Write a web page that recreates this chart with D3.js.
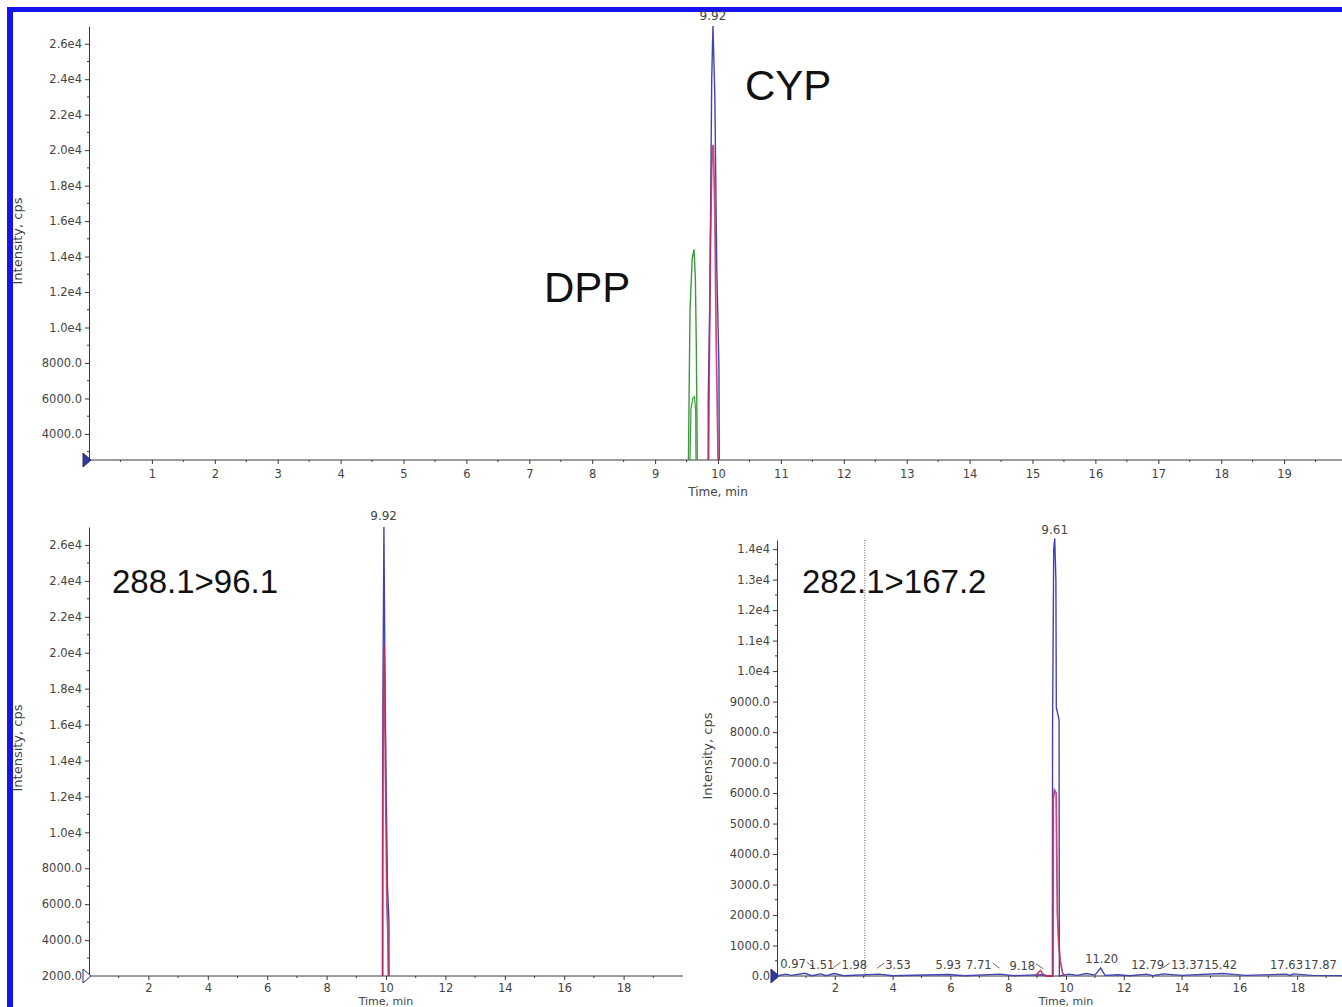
<!DOCTYPE html>
<html>
<head>
<meta charset="utf-8">
<script src="https://cdn.jsdelivr.net/npm/d3@7"></script>
<style>
  body { margin: 0; background: #fff; }
  svg { display: block; font-family: "Liberation Sans", Arial, sans-serif; }
  .small { font-family: "DejaVu Sans", sans-serif; }
</style>
</head>
<body>
<svg width="1342" height="1007"></svg>
<script>
// ---- data (time in min, intensity in cps) ----
const topTimeTicks = [1, 2, 3, 4, 5, 6, 7, 8, 9, 10, 11, 12, 13, 14, 15, 16, 17, 18, 19];
const topIntensityTicks = [4000, 6000, 8000, 10000, 12000, 14000, 16000, 18000, 20000, 22000, 24000, 26000];
const bottomTimeTicks = [2, 4, 6, 8, 10, 12, 14, 16, 18];
const leftIntensityTicks = [2000, 4000, 6000, 8000, 10000, 12000, 14000, 16000, 18000, 20000, 22000, 24000, 26000];
const rightIntensityTicks = [0, 1000, 2000, 3000, 4000, 5000, 6000, 7000, 8000, 9000, 10000, 11000, 12000, 13000, 14000];

// overview: DPP (green, two transitions) and CYP (blue + red transitions)
const dppMain = [[9.53, 2530], [9.54, 6000], [9.555, 11000], [9.59, 13900], [9.62, 14400], [9.64, 12800], [9.655, 9000], [9.665, 5000], [9.67, 2530]];
const dppQual = [[9.555, 2530], [9.57, 5400], [9.60, 6000], [9.625, 6100], [9.645, 5300], [9.65, 2530]];
const cypMain = [[9.845, 2530], [9.845, 6000], [9.87, 11500], [9.90, 24000], [9.92, 27000], [9.95, 23000], [9.98, 13400], [10.015, 7800], [10.02, 2530]];
const cypQual = [[9.85, 2530], [9.86, 7000], [9.88, 14500], [9.905, 20000], [9.925, 20300], [9.95, 16500], [9.97, 9500], [9.995, 4000], [10.0, 2530]];

// 288.1>96.1
const cyp288Main = [[9.885, 2000], [9.885, 8000], [9.89, 15000], [9.91, 21400], [9.93, 27000], [9.96, 20000], [10.0, 13000], [10.05, 7000], [10.1, 5000], [10.1, 2000]];
const cyp288Qual = [[9.885, 2000], [9.89, 9000], [9.90, 14000], [9.93, 20500], [9.96, 18000], [9.98, 13600], [10.03, 6000], [10.06, 4500], [10.08, 2000]];

// 282.1>167.2
const dpp282Main = [[0, 0], [0.3, 60], [0.5, 20], [0.97, 90], [1.2, 10], [1.51, 70], [1.7, 10], [1.98, 80], [2.3, 10],
  [3.53, 60], [4.0, 10], [5.93, 50], [6.5, 10], [7.71, 60], [8.2, 10], [9.18, 40], [9.4, 0], [9.53, 0],
  [9.535, 8200], [9.575, 14000], [9.61, 14350], [9.65, 13000], [9.665, 8800], [9.76, 8400], [9.77, 0],
  [10.1, 60], [10.4, 20], [10.7, 80], [11.0, 30], [11.2, 260], [11.35, 20], [11.8, 40], [12.2, 10], [12.79, 60],
  [13.0, 10], [13.37, 70], [14.0, 20], [15.42, 80], [16.2, 20], [17.63, 60], [17.75, 20], [17.87, 70], [18.5, 20], [20, 10]];
const dpp282Qual = [[8.95, 0], [9.05, 120], [9.12, 180], [9.2, 60], [9.3, 0], [9.55, 0], [9.555, 2000], [9.56, 5800],
  [9.60, 6100], [9.66, 6000], [9.70, 2100], [9.74, 1200], [9.80, 500], [9.88, 100], [9.95, 0]];
const dpp282PeakTimes = [0.97, 1.51, 1.98, 3.53, 5.93, 7.71, 9.18, 11.20, 12.79, 13.37, 15.42, 17.63, 17.87];
const dpp282PeakHeights = [90, 70, 80, 60, 50, 60, 40, 260, 60, 70, 80, 60, 70];

// ---- layout ----
const svg = d3.select("svg");
const BLUE = "#4343b8", RED = "#c42a5c", GREEN = "#3c9a3c", AXIS = "#3a3a3a", TXT = "#444";
const fmt = v => v >= 10000 ? (v / 1e4).toFixed(1) + "e4" : v.toFixed(1);

svg.append("rect").attr("x", 0).attr("y", 0).attr("width", 1342).attr("height", 1007).attr("fill", "#fff");
// blue frame
svg.append("rect").attr("x", 7).attr("y", 7).attr("width", 6).attr("height", 1000).attr("fill", "#1414ee");
svg.append("rect").attr("x", 7).attr("y", 7).attr("width", 1335).attr("height", 5).attr("fill", "#1414ee");

function panel(cfg) {
  const g = svg.append("g");
  const x = d3.scaleLinear().domain([0, 20]).range([cfg.left, cfg.left + 20 * cfg.pxPerMin]);
  const y = d3.scaleLinear().domain(cfg.yDomain).range([cfg.bottom, cfg.top]);

  // x axis
  const xa = g.append("g").attr("transform", `translate(0,${cfg.bottom})`)
    .call(d3.axisBottom(x).tickValues(cfg.xTicks).tickFormat(d3.format("d")).tickSize(4).tickPadding(cfg.xPad).tickSizeOuter(0));
  xa.append("g").selectAll("line").data(cfg.xMinor).join("line")
    .attr("x1", d => x(d)).attr("x2", d => x(d)).attr("y1", 0).attr("y2", 2).attr("stroke", AXIS);
  xa.select(".domain").attr("d", `M${cfg.left},0H${Math.min(1342, cfg.axisEnd)}`);

  // y axis
  const ya = g.append("g").attr("transform", `translate(${cfg.left},0)`)
    .call(d3.axisLeft(y).tickValues(cfg.yTicks).tickFormat(fmt).tickSize(4).tickSizeOuter(0));
  ya.append("g").selectAll("line").data(cfg.yMinor).join("line")
    .attr("y1", d => y(d)).attr("y2", d => y(d)).attr("x1", 0).attr("x2", -2).attr("stroke", AXIS);

  g.selectAll(".domain, .tick line").attr("stroke", AXIS);
  g.selectAll(".tick text").attr("class", "small").attr("fill", TXT).attr("font-size", 11.5);

  // start marker on the x axis
  g.append("path")
    .attr("d", `M${cfg.left - 6},${cfg.bottom - 7}L${cfg.left + 2},${cfg.bottom}L${cfg.left - 6},${cfg.bottom + 7}Z`)
    .attr("fill", cfg.markerFill).attr("stroke", "#2a2a7a").attr("stroke-width", 1);

  // axis titles
  g.append("text").attr("class", "small").attr("x", x(10)).attr("y", cfg.timeTitleY).attr("text-anchor", "middle")
    .attr("font-size", cfg.timeTitleSize).attr("fill", TXT).text("Time, min");
  g.append("text").attr("class", "small")
    .attr("transform", `translate(${cfg.yTitleX},${cfg.yTitleY}) rotate(-90)`)
    .attr("text-anchor", "middle").attr("font-size", 13).attr("fill", TXT).text("Intensity, cps");

  const line = d3.line().x(d => x(d[0])).y(d => y(d[1]));
  cfg.series.forEach(s => {
    g.append("path").datum(s.data).attr("d", line).attr("fill", "none")
      .attr("stroke", s.color).attr("stroke-width", s.width || 1.3).attr("stroke-opacity", s.opacity || 1);
  });

  // apex label
  g.append("text").attr("class", "small").attr("x", x(cfg.apex[0])).attr("y", cfg.apexY).attr("text-anchor", "middle")
    .attr("font-size", 12).attr("fill", TXT).text(cfg.apex[0].toFixed(2));

  return { g, x, y };
}

// overview
const p1 = panel({
  left: 89, pxPerMin: 62.9, top: 26, bottom: 460, yDomain: [2530, 27000], axisEnd: 1342, xPad: 6,
  xTicks: topTimeTicks, xMinor: d3.range(0.5, 20, 1), yTicks: topIntensityTicks, yMinor: d3.range(3000, 27000, 2000),
  markerFill: "#2f3a99", yTitleX: 22, yTitleY: 241, timeTitleY: 496, timeTitleSize: 12,
  series: [
    { data: dppQual, color: GREEN, width: 1.2 },
    { data: dppMain, color: GREEN, width: 1.4 },
    { data: cypMain, color: BLUE, width: 1.4 },
    { data: cypQual, color: RED, width: 1.7, opacity: 0.85 }
  ],
  apex: [9.92], apexY: 20
});
p1.g.append("text").attr("x", 745).attr("y", 100).attr("font-size", 42).attr("fill", "#111").text("CYP");
p1.g.append("text").attr("x", 544).attr("y", 302).attr("font-size", 42).attr("fill", "#111").text("DPP");

// 288.1>96.1
const p2 = panel({
  left: 89, pxPerMin: 29.7, top: 527, bottom: 976, yDomain: [2000, 27000], axisEnd: 683, xPad: 4,
  xTicks: bottomTimeTicks, xMinor: d3.range(1, 20, 2), yTicks: leftIntensityTicks, yMinor: d3.range(3000, 27000, 2000),
  markerFill: "#fff", yTitleX: 22, yTitleY: 748, timeTitleY: 1005, timeTitleSize: 11,
  series: [
    { data: cyp288Main, color: BLUE, width: 1.4 },
    { data: cyp288Qual, color: RED, width: 1.8, opacity: 0.85 }
  ],
  apex: [9.92], apexY: 520
});
p2.g.append("text").attr("x", 112).attr("y", 593).attr("font-size", 33).attr("fill", "#111").text("288.1>96.1");

// 282.1>167.2
const p3 = panel({
  left: 777, pxPerMin: 28.9, top: 540, bottom: 976, yDomain: [0, 14300], axisEnd: 1342, xPad: 4,
  xTicks: bottomTimeTicks, xMinor: d3.range(1, 20, 2), yTicks: rightIntensityTicks, yMinor: d3.range(500, 14300, 1000),
  markerFill: "#2f3a99", yTitleX: 712, yTitleY: 756, timeTitleY: 1005, timeTitleSize: 11,
  series: [
    { data: dpp282Main, color: BLUE, width: 1.4 },
    { data: dpp282Qual, color: RED, width: 1.8, opacity: 0.85 }
  ],
  apex: [9.61], apexY: 534
});
p3.g.append("line").attr("x1", p3.x(3.04)).attr("x2", p3.x(3.04)).attr("y1", 540).attr("y2", 976)
  .attr("stroke", "#555").attr("stroke-width", 1).attr("stroke-dasharray", "1,1.5");
p3.g.append("text").attr("x", 802).attr("y", 593).attr("font-size", 33).attr("fill", "#111").text("282.1>167.2");

// peak labels along the baseline, nudged apart like the instrument software does
const labelNudge = [-12, 1, 20, 19, 0, -21, -20, 1, 1, 24, -2, 0, 27];
const labelLeader = [true, false, true, true, false, true, true, false, false, true, false, false, false];
dpp282PeakTimes.forEach((t, i) => {
  const cx = p3.x(t) + labelNudge[i];
  const ty = Math.min(p3.y(dpp282PeakHeights[i]) - 5, 971);
  const txt = p3.g.append("text").attr("class", "small").attr("x", cx).attr("y", ty).attr("text-anchor", "middle")
    .attr("font-size", 11.5).attr("fill", TXT).text(t.toFixed(2));
  if (labelLeader[i]) {
    const s = Math.sign(labelNudge[i]);
    const w = txt.node().getComputedTextLength() / 2;
    const x1 = cx - s * (w + 1);
    p3.g.append("line").attr("x1", x1).attr("y1", ty - 6).attr("x2", x1 - s * 7).attr("y2", ty - 1)
      .attr("stroke", "#555").attr("stroke-width", 0.9);
  }
});
</script>
</body>
</html>
